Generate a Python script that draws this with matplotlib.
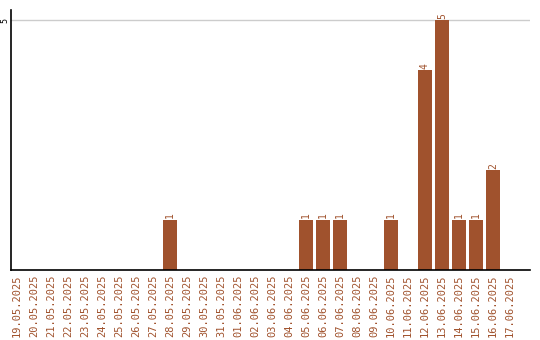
import matplotlib
matplotlib.use("Agg")
import matplotlib.pyplot as plt
import numpy as np

dates = ["19.05.2025", "20.05.2025", "21.05.2025", "22.05.2025", "23.05.2025",
         "24.05.2025", "25.05.2025", "26.05.2025", "27.05.2025", "28.05.2025",
         "29.05.2025", "30.05.2025", "31.05.2025", "01.06.2025", "02.06.2025",
         "03.06.2025", "04.06.2025", "05.06.2025", "06.06.2025", "07.06.2025",
         "08.06.2025", "09.06.2025", "10.06.2025", "11.06.2025", "12.06.2025",
         "13.06.2025", "14.06.2025", "15.06.2025", "16.06.2025", "17.06.2025"]
counts = [0, 0, 0, 0, 0, 0, 0, 0, 0, 1,
          0, 0, 0, 0, 0, 0, 0, 1, 1, 1,
          0, 0, 1, 0, 4, 5, 1, 1, 2, 0]

color = "#A0522D"

fig = plt.figure(figsize=(5.4, 3.4), dpi=100)
ax = fig.add_axes([11 / 540, 70 / 340, 519 / 540, 260 / 340])

x = np.arange(len(dates))
ax.bar(x, counts, width=0.82, color=color, zorder=2)
for xi, c in zip(x, counts):
    if c > 0:
        ax.text(xi, c + 0.03, str(c), rotation=90, ha="center", va="bottom",
                color=color, fontsize=7, family="DejaVu Sans Mono")

ax.set_xlim(-0.35, 30.18)
ax.set_ylim(0, 5.2)
ax.set_yticks([5])
ax.set_yticklabels(["5"], rotation=90, va="center", fontsize=6,
                   family="DejaVu Sans Mono")
ax.yaxis.grid(True, color="#cccccc", linewidth=1, zorder=0)
ax.set_xticks(x)
ax.set_xticklabels(dates, rotation=90, fontsize=7.5, color=color,
                   family="DejaVu Sans Mono")
ax.tick_params(axis="x", length=0, pad=3)
ax.tick_params(axis="y", length=0, pad=1)
ax.spines["top"].set_visible(False)
ax.spines["right"].set_visible(False)
ax.spines["left"].set_linewidth(1.2)
ax.spines["bottom"].set_linewidth(1.2)

fig.savefig("out.png", dpi=100)
